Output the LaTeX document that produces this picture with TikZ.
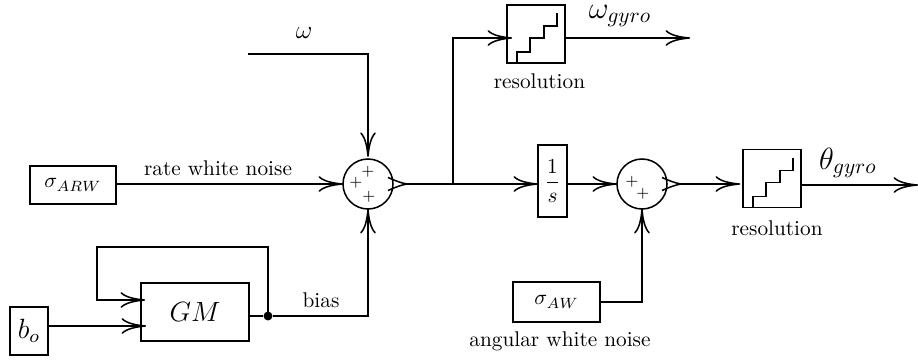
\documentclass[tikz,border=0pt]{standalone}
\usepackage{graphicx}
\usetikzlibrary{arrows.meta,calc}
\tikzset{
  lnk/.style={line width=0.72pt,line join=miter},
  arr/.style={lnk,-{Computer Modern Rightarrow[length=11.5pt,width=7.4pt,line width=0.72pt]}},
  bx/.style={draw,line width=0.72pt,inner sep=0pt,outer sep=0pt,align=center},
  sumj/.style={draw,circle,line width=0.72pt,minimum size=50*0.47pt,inner sep=0pt,outer sep=0pt},
  lab/.style={inner sep=0pt,outer sep=0pt},
  plus/.style={inner sep=0pt,outer sep=0pt,font=\scriptsize},
  dotj/.style={circle,fill=black,inner sep=0pt,minimum size=4.2pt},
  vee/.style={line width=0.72pt}
}
\newcommand{\stairs}[1]{%
  \draw[lnk] ($(#1)+(-19,29)$) -- ++(0,-11) -- ++(13,0) -- ++(0,-14) -- ++(14,0) -- ++(0,-12) -- ++(13,0) -- ++(0,-13);}
\newcommand{\outvee}[1]{%
  \draw[vee] ($(#1)+(20,-6.5)$) .. controls ($(#1)+(28,-3)$) and ($(#1)+(33,-1)$) .. ($(#1)+(39,0)$)
     .. controls ($(#1)+(33,1)$) and ($(#1)+(28,3)$) .. ($(#1)+(20,6.5)$);}
\begin{document}
\begin{tikzpicture}[x=0.47pt,y=-0.47pt]
\useasboundingbox (0,0) rectangle (918,360);
% blocks
\node[bx,minimum width=86*0.47pt,minimum height=38*0.47pt] (arw) at (73,185) {$\sigma_{ARW}$};
\node[bx,minimum width=108*0.47pt,minimum height=58*0.47pt] (gm) at (195,312) {\scalebox{1.09}{\large $GM$}};
\node[bx,minimum width=38*0.47pt,minimum height=48*0.47pt] (bo) at (29,331) {\scalebox{1.09}{\large $b_o$}};
\node[bx,minimum width=87*0.47pt,minimum height=40*0.47pt] (aw) at (556.5,302) {$\sigma_{AW}$};
\node[bx,minimum width=58*0.47pt,minimum height=58*0.47pt] (res1) at (536,34) {};
\node[bx,minimum width=58*0.47pt,minimum height=58*0.47pt] (res2) at (772,178.5) {};
\node[bx,minimum width=29*0.47pt,minimum height=72*0.47pt] (int) at (552.5,181) {$\displaystyle\frac{1}{s}$};
\node[sumj] (s1) at (368,184) {};
\node[sumj] (s2) at (642,184) {};
\node[dotj] (jb) at (268,316) {};
% staircases
\stairs{res1}
\stairs{res2}
% summing-junction signs
\node[plus] (p1) at (368,172) {$+$};
\node[plus] (p2) at (356,182.5) {$+$};
\node[plus] (p3) at (369,197) {$+$};
\node[plus] (p4) at (632,182) {$+$};
\node[plus] (p5) at (643,194) {$+$};
% output barbs of the junctions
\outvee{s1}
\outvee{s2}
% free ends
\coordinate (wstart) at (248,54);
\coordinate (s1out) at (407,184);
\coordinate (s2out) at (681,184);
\coordinate (br) at (453,184);
\coordinate (w1end) at (690,38);
\coordinate (thend) at (918,185);
\coordinate (fbin) at (145,300);
\coordinate (boin) at (146,326);
\coordinate (res1in) at (512,38);
\coordinate (res2in) at (740,184);
\coordinate (fbtop) at (268,247);
\coordinate (fbleft) at (97,247);
\coordinate (fbdown) at (97,300);
% connectors
\draw[arr] (wstart) -| ([yshift=1pt]s1.north);
\draw[arr] (arw.east |- s1.west) -- (s1.west);
\draw[arr] (s1out) -- (int.west |- s1out);
\draw[arr] (br) |- (res1in);
\draw[arr] (res1.east |- w1end) -- (w1end);
\draw[arr] (int.east |- s2.west) -- (s2.west);
\draw[arr] (s2out) -- (res2in);
\draw[arr] (res2.east |- thend) -- (thend);
\draw[arr] (aw.east) -| (s2.south);
\draw[lnk] (gm.east |- jb) -- (jb);
\draw[arr] (jb) -| (s1.south);
\draw[arr] (jb.center) -- (fbtop) -- (fbleft) -- (fbdown) -- (fbin);
\draw[arr] (bo.east |- boin) -- (boin);
% labels
\node[lab] (lw) at (304,33) {\large $\omega$};
\node[lab] (lwg) at (620,16) {\Large $\omega_{gyro}$};
\node[lab] (lth) at (848,163) {\Large $\theta_{gyro}$};
\node[lab] (lr1) at (539.5,81) {resolution};
\node[lab] (lr2) at (777,228) {resolution};
\node[lab] (lrw) at (218,168) {rate white noise};
\node[lab] (lb) at (321,300) {bias};
\node[lab] (lan) at (560,341) {angular white noise};
\end{tikzpicture}
\end{document}
